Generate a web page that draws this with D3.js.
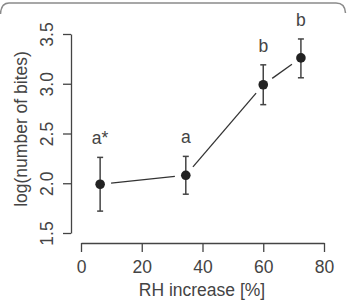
<!DOCTYPE html>
<html>
<head>
<meta charset="utf-8">
<script src="https://cdn.jsdelivr.net/npm/d3@7"></script>
<style>
  body { margin: 0; background: #fff; }
  svg { display: block; font-family: "Liberation Sans", Arial, sans-serif; }
</style>
</head>
<body>
<svg id="chart" width="347" height="300"></svg>
<script>
// RH increase (%) per treatment
const rhIncrease = [6.3, 34.5, 60, 72.4]
// mean log(number of bites) and error bar ends
const meanLog = [1.99, 2.08, 2.99, 3.26]
const upperLog = [2.26, 2.27, 3.19, 3.45]
const lowerLog = [1.72, 1.89, 2.79, 3.06]
const groupLetters = ['a*', 'a', 'b', 'b']
const xTicks = [0, 20, 40, 60, 80]
const yTicks = [1.5, 2.0, 2.5, 3.0, 3.5]

const data = rhIncrease.map((d, i) => ({
  rh: d, m: meanLog[i], hi: upperLog[i], lo: lowerLog[i], lab: groupLetters[i]
}))

const svg = d3.select('#chart')
const ink = '#444'

const x = d3.scaleLinear().domain([0, 80]).range([81, 324])
const y = d3.scaleLinear().domain([1.5, 3.5]).range([233, 34])

// faint frame at the top edge
svg.append('path')
  .attr('d', 'M0.5,14 Q1,3 9,3 L336,3 Q345,3 345.5,13')
  .attr('fill', 'none')
  .attr('stroke', '#8a8a8a')
  .attr('stroke-width', 1.5)

//* * y axis
const gy = svg.append('g')
  .attr('transform', 'translate(71,0)')
  .call(d3.axisLeft(y).tickValues(yTicks).tickFormat(d3.format('.1f')).tickSize(8).tickSizeOuter(0))
gy.selectAll('text')
  .attr('x', 0).attr('dy', 0)
  .attr('transform', 'translate(-18,0) rotate(-90)')
  .attr('text-anchor', 'middle')

//* * x axis
const gx = svg.append('g')
  .attr('transform', 'translate(0,243)')
  .call(d3.axisBottom(x).tickValues(xTicks).tickSize(9).tickSizeOuter(0))
gx.selectAll('text').attr('y', 30).attr('dy', 0)

svg.selectAll('.domain, .tick line').attr('stroke', ink).attr('stroke-width', 1.3)
svg.selectAll('.tick text')
  .attr('fill', ink)
  .style('font-size', '17.5px')
  .style('font-family', '"Liberation Sans", Arial, sans-serif')

// axis titles
svg.append('text')
  .attr('x', 202).attr('y', 296)
  .attr('text-anchor', 'middle')
  .attr('fill', ink)
  .style('font-size', '17.5px')
  .text('RH increase [%]')

svg.append('text')
  .attr('transform', 'translate(27,129) rotate(-90)')
  .attr('text-anchor', 'middle')
  .attr('fill', ink)
  .style('font-size', '17.5px')
  .text('log(number of bites)')

// connecting lines with gaps round the points (type = "b")
const gap = 11
for (let i = 0; i < data.length - 1; i++) {
  const x0 = x(data[i].rh), y0 = y(data[i].m)
  const x1 = x(data[i + 1].rh), y1 = y(data[i + 1].m)
  const len = Math.hypot(x1 - x0, y1 - y0)
  const ux = (x1 - x0) / len, uy = (y1 - y0) / len
  svg.append('line')
    .attr('x1', x0 + ux * gap).attr('y1', y0 + uy * gap)
    .attr('x2', x1 - ux * gap).attr('y2', y1 - uy * gap)
    .attr('stroke', '#333')
    .attr('stroke-width', 1.3)
}

// error bars
const bars = svg.selectAll('.err')
  .data(data)
  .enter().append('g')
  .attr('class', 'err')
  .attr('stroke', ink)
  .attr('stroke-width', 1.5)
bars.append('line')
  .attr('x1', d => x(d.rh)).attr('x2', d => x(d.rh))
  .attr('y1', d => y(d.hi)).attr('y2', d => y(d.lo))
bars.append('line')
  .attr('x1', d => x(d.rh) - 3).attr('x2', d => x(d.rh) + 3)
  .attr('y1', d => y(d.hi)).attr('y2', d => y(d.hi))
bars.append('line')
  .attr('x1', d => x(d.rh) - 3).attr('x2', d => x(d.rh) + 3)
  .attr('y1', d => y(d.lo)).attr('y2', d => y(d.lo))

// points
svg.selectAll('.pt')
  .data(data)
  .enter().append('circle')
  .attr('class', 'pt')
  .attr('cx', d => x(d.rh))
  .attr('cy', d => y(d.m))
  .attr('r', 4.8)
  .attr('fill', '#222')

// group letters
svg.selectAll('.lab')
  .data(data)
  .enter().append('text')
  .attr('class', 'lab')
  .attr('x', d => x(d.rh))
  .attr('y', d => y(d.hi) - 13)
  .attr('text-anchor', 'middle')
  .attr('fill', ink)
  .style('font-size', '17.5px')
  .text(d => d.lab)
</script>
</body>
</html>
